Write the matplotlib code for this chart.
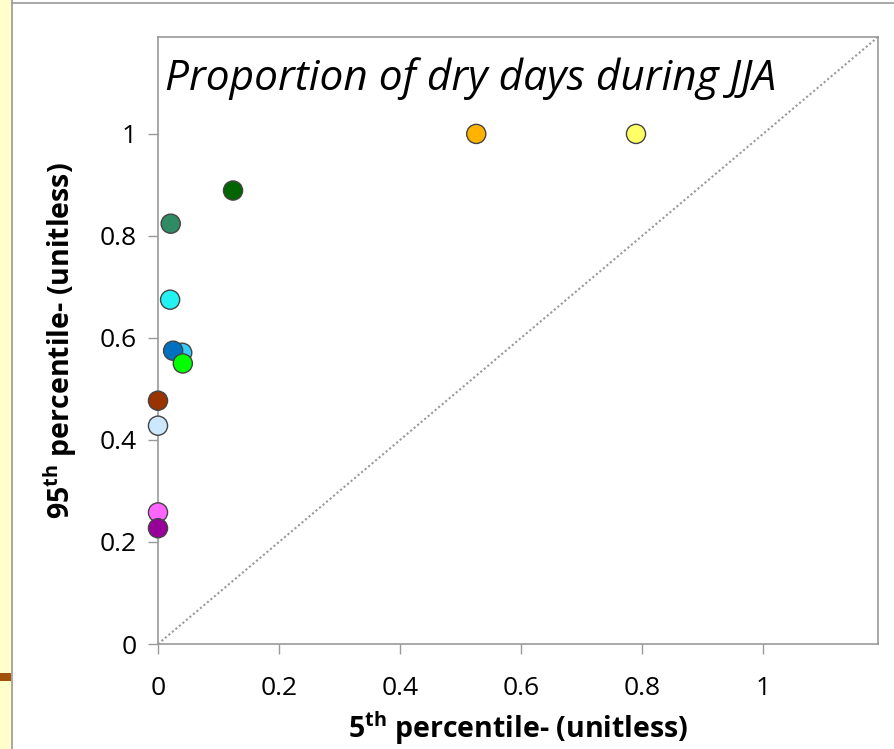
import matplotlib
matplotlib.use("Agg")
import matplotlib.pyplot as plt
from matplotlib.patches import Rectangle
from matplotlib.lines import Line2D

# values
p5 = [0.526, 0.790, 0.124, 0.021, 0.020, 0.040, 0.025, 0.041, 0.0, 0.0, 0.0, 0.0]
p95 = [1.0, 1.0, 0.889, 0.824, 0.675, 0.571, 0.575, 0.550, 0.477, 0.428, 0.258, 0.227]
colors = ['#FFB300', '#FFFF66', '#006400', '#2E8B64', '#22F2F2', '#33CCFF',
          '#0070C0', '#00FF00', '#993300', '#CCE8FF', '#FF66FF', '#990099']
ticks = [0, 0.2, 0.4, 0.6, 0.8, 1]
tick_labels = ['0', '0.2', '0.4', '0.6', '0.8', '1']
lim = 1.19

plt.rcParams['font.family'] = ['Open Sans', 'DejaVu Sans']
plt.rcParams['mathtext.fontset'] = 'custom'
plt.rcParams['mathtext.rm'] = 'Open Sans'
plt.rcParams['mathtext.bf'] = 'Open Sans:bold'

fig = plt.figure(figsize=(8.95, 7.49), dpi=100)

# slide decorations around the chart
fig.patches.append(Rectangle((0, 0), 12.5 / 895, 1, transform=fig.transFigure,
                             facecolor='#FFFFCC', edgecolor='none', zorder=0))
fig.lines.append(Line2D([12.5 / 895, 12.5 / 895], [0, 1], transform=fig.transFigure,
                        color='#999999', lw=1.2))
fig.lines.append(Line2D([12.5 / 895, 1], [1 - 2.5 / 749, 1 - 2.5 / 749],
                        transform=fig.transFigure, color='#999999', lw=1.2))
fig.patches.append(Rectangle((0, 1 - 681 / 749), 11 / 895, 8 / 749, transform=fig.transFigure,
                             facecolor='#A0520A', edgecolor='none', zorder=1))

ax = fig.add_axes([158 / 895, 105 / 749, 720 / 895, 607 / 749])

ax.plot([0, lim], [0, lim], linestyle=(0, (1, 1.2)), color='#999999', lw=1.5, zorder=1)
ax.scatter(p5, p95, s=190, c=colors, edgecolors='#444444', linewidths=1.0,
           zorder=3, clip_on=False)

ax.set_xlim(0, lim)
ax.set_ylim(0, lim)
ax.set_xticks(ticks)
ax.set_xticklabels(tick_labels)
ax.set_yticks(ticks)
ax.set_yticklabels(tick_labels)
ax.tick_params(direction='out', length=7, width=1, color='#999999', labelsize=19)
ax.tick_params(axis='y', pad=8)
ax.tick_params(axis='x', pad=16)
for side in ['left', 'bottom', 'top', 'right']:
    ax.spines[side].set_color('#999999')
    ax.spines[side].set_linewidth(1.2)

ax.text(0.01, 0.932, 'Proportion of dry days during JJA', transform=ax.transAxes,
        fontsize=30.5, style='italic', ha='left', va='center')

ax.set_xlabel(r'5$^{\mathbf{th}}$ percentile- (unitless)', fontsize=20.5,
              fontweight='bold', labelpad=6)
ax.set_ylabel(r'95$^{\mathbf{th}}$ percentile- (unitless)', fontsize=20.5,
              fontweight='bold', labelpad=15)

fig.savefig('out.png', dpi=100)
